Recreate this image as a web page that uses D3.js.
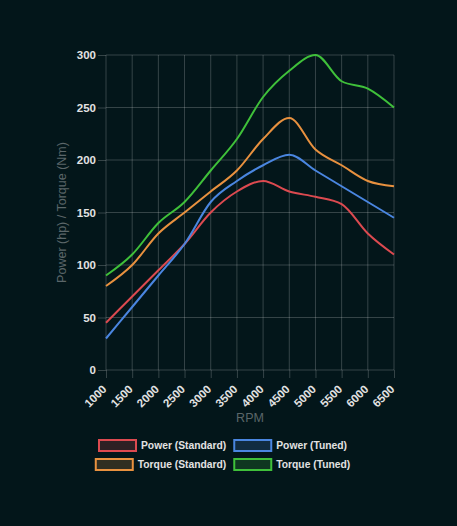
<!DOCTYPE html>
<html>
<head>
<meta charset="utf-8">
<script src="https://cdn.jsdelivr.net/npm/d3@7"></script>
<style>
    html, body { margin: 0; padding: 0; background: #03161a; }
    svg { display: block; }
</style>
</head>
<body>
<div id="chart"></div>
<script>
// rpm steps along the x axis
const rpm = [1000, 1500, 2000, 2500, 3000, 3500, 4000, 4500, 5000, 5500, 6000, 6500];

// values
const powerStandard = [45, 70, 95, 120, 150, 170, 180, 170, 165, 158, 130, 110];
const powerTuned = [30, 60, 90, 120, 160, 180, 195, 205, 190, 175, 160, 145];
const torqueStandard = [80, 100, 130, 150, 170, 190, 220, 240, 210, 195, 180, 175];
const torqueTuned = [90, 110, 140, 160, 190, 220, 260, 285, 300, 275, 268, 250];

const seriesNames = ["Power (Standard)", "Power (Tuned)", "Torque (Standard)", "Torque (Tuned)"];
const seriesColors = ["#dc4a50", "#4a86e0", "#e8913f", "#3fc03a"];
const yTicks = [0, 50, 100, 150, 200, 250, 300];

const width = 457, height = 526;
const margin = {top: 55, right: 63, bottom: 156, left: 106};

let svg = d3.select("#chart").append("svg")
    .attr("width", width)
    .attr("height", height);

svg.append("rect").attr("width", width).attr("height", height).attr("fill", "#03161a");

let x = d3.scaleLinear()
    .domain([1000, 6500])
    .range([margin.left, width - margin.right]);

let y = d3.scaleLinear()
    .domain([0, 300])
    .range([height - margin.bottom, margin.top]);

const gridColor = "rgba(255,255,255,0.2)";
const tickFont = "bold 11.5px 'Liberation Sans', Arial, sans-serif";

// horizontal grid + y labels
let yAxis = svg.append("g").attr("transform", "translate(" + margin.left + ",0)")
    .call(d3.axisLeft(y).tickValues(yTicks).tickSize(8).tickPadding(2));
yAxis.select(".domain").remove();
yAxis.selectAll("line").attr("stroke", gridColor);
yAxis.selectAll("text").style("font", tickFont).attr("fill", "#e2e2e2");

svg.append("g").selectAll("line").data(yTicks).join("line")
    .attr("x1", x(1000)).attr("x2", x(6500))
    .attr("y1", d => y(d)).attr("y2", d => y(d))
    .attr("stroke", gridColor);

// vertical grid + x labels (rotated)
let xAxis = svg.append("g").attr("transform", "translate(0," + y(0) + ")")
    .call(d3.axisBottom(x).tickValues(rpm).tickFormat(d3.format("d")).tickSize(8));
xAxis.select(".domain").remove();
xAxis.selectAll("line").attr("stroke", gridColor);
xAxis.selectAll("text")
    .style("font", tickFont)
    .attr("fill", "#e2e2e2")
    .attr("text-anchor", "end")
    .attr("x", 0)
    .attr("y", 0)
    .attr("dy", "0.35em")
    .attr("transform", "translate(-2,17) rotate(-45)");

svg.append("g").selectAll("line").data(rpm).join("line")
    .attr("x1", d => x(d)).attr("x2", d => x(d))
    .attr("y1", y(0)).attr("y2", y(300))
    .attr("stroke", gridColor);

// axis titles
svg.append("text")
    .attr("transform", "translate(66," + (y(150)) + ") rotate(-90)")
    .attr("text-anchor", "middle")
    .style("font", "12.5px 'Liberation Sans', Arial, sans-serif")
    .attr("fill", "#5b6669")
    .text("Power (hp) / Torque (Nm)");

svg.append("text")
    .attr("x", (x(1000) + x(6500)) / 2)
    .attr("y", 422)
    .attr("text-anchor", "middle")
    .style("font", "12.5px 'Liberation Sans', Arial, sans-serif")
    .attr("fill", "#5b6669")
    .text("RPM");

// lines
const allSeries = [powerStandard, powerTuned, torqueStandard, torqueTuned];
let line = d3.line()
    .x((d, i) => x(rpm[i]))
    .y(d => y(d))
    .curve(d3.curveMonotoneX);

svg.append("g").selectAll("path").data(allSeries).join("path")
    .attr("d", d => line(d))
    .attr("fill", "none")
    .attr("stroke", (d, i) => seriesColors[i])
    .attr("stroke-width", 2);

// legend, two centered rows
const legendFont = "bold 10.3px 'Liberation Sans', Arial, sans-serif";
let measure = svg.append("text").style("font", legendFont);
function textWidth(s) {
    measure.text(s);
    return measure.node().getComputedTextLength();
}
const rows = [[0, 1], [2, 3]];
const boxW = 37, boxH = 11;
rows.forEach((row, r) => {
    let items = row.map(i => ({i: i, w: boxW + 5 + textWidth(seriesNames[i])}));
    let total = d3.sum(items, d => d.w) + 8 * (items.length - 1);
    let cx = 223 - total / 2;
    let cy = 445.5 + r * 19;
    items.forEach(it => {
        let g = svg.append("g").attr("transform", "translate(" + cx + "," + cy + ")");
        g.append("rect")
            .attr("x", 0).attr("y", -boxH / 2)
            .attr("width", boxW).attr("height", boxH)
            .attr("fill", seriesColors[it.i]).attr("fill-opacity", 0.2)
            .attr("stroke", seriesColors[it.i]).attr("stroke-width", 2);
        g.append("text")
            .attr("x", boxW + 5).attr("dy", "0.35em")
            .style("font", legendFont)
            .attr("fill", "#e2e2e2")
            .text(seriesNames[it.i]);
        cx += it.w + 8;
    });
});
measure.remove();
</script>
</body>
</html>
